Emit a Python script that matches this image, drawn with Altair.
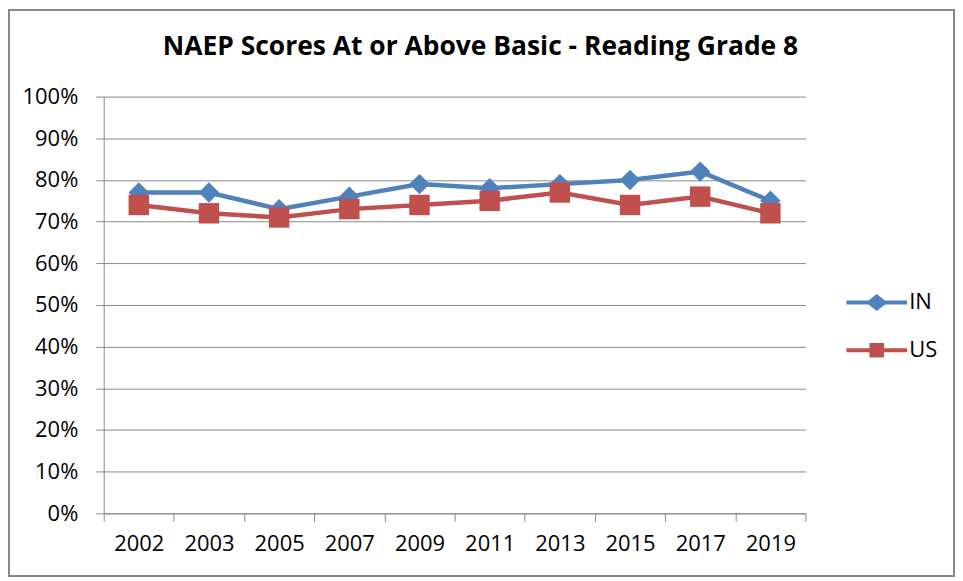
import altair as alt
import pandas as pd

title_text = "NAEP Scores At or Above Basic - Reading Grade 8"
years = ["2002", "2003", "2005", "2007", "2009", "2011", "2013", "2015", "2017", "2019"]
in_scores = [77, 77, 73, 76, 79, 78, 79, 80, 82, 75]
us_scores = [74, 72, 71, 73, 74, 75, 77, 74, 76, 72]
series = ["IN", "US"]
colors = ["#4F81BD", "#C0504D"]

rows = []
for y, v in zip(years, in_scores):
    rows.append({"year": y, "series": "IN", "value": v / 100})
for y, v in zip(years, us_scores):
    rows.append({"year": y, "series": "US", "value": v / 100})
df = pd.DataFrame(rows)

FONT = "Open Sans"

diamond_path = ("M-1,-0.065 L-0.27,-0.065 L0,-0.28 L0.27,-0.065 L1,-0.065 L1,0.065 "
                "L0.27,0.065 L0,0.28 L-0.27,0.065 L-1,0.065 Z")
square_path = ("M-1,-0.065 L-0.24,-0.065 L-0.24,-0.24 L0.24,-0.24 L0.24,-0.065 L1,-0.065 "
               "L1,0.065 L0.24,0.065 L0.24,0.24 L-0.24,0.24 L-0.24,0.065 L-1,0.065 Z")

x_enc = alt.X("year:N", sort=years, title=None,
              scale=alt.Scale(paddingInner=0, paddingOuter=0),
              axis=alt.Axis(labelAngle=0, tickBand="extent", tickSize=8,
                            labelPadding=12, labelFontSize=22, labelColor="#000",
                            domainColor="#888", tickColor="#888", grid=False,
                            labelFont=FONT))
y_enc = alt.Y("value:Q", title=None,
              scale=alt.Scale(domain=[0, 1], nice=False),
              axis=alt.Axis(format=".0%", values=[i / 10 for i in range(11)],
                            tickSize=8, labelPadding=18, labelFontSize=22,
                            labelColor="#000", domainColor="#888", tickColor="#888",
                            gridColor="#888", gridWidth=1, labelFont=FONT))

legend = alt.Legend(title=None, orient="none", legendX=745, legendY=176,
                    symbolSize=3700, rowPadding=6, labelFontSize=22,
                    labelFont=FONT, labelColor="#000", labelOffset=2,
                    symbolStrokeWidth=0, symbolOpacity=1)

color_nolegend = alt.Color("series:N", scale=alt.Scale(domain=series, range=colors), legend=None)

lines = alt.Chart(df).mark_line(strokeWidth=4.5).encode(x=x_enc, y=y_enc, color=color_nolegend)
points = alt.Chart(df).mark_point(filled=True, opacity=1, size=420).encode(
    x=x_enc, y=y_enc, color=color_nolegend,
    shape=alt.Shape("series:N", scale=alt.Scale(domain=series, range=["diamond", "square"]),
                    legend=None))

legend_layer = alt.Chart(df).mark_point(filled=True, size=0, opacity=0).encode(
    x=x_enc, y=y_enc,
    color=alt.Color("series:N", scale=alt.Scale(domain=series, range=colors), legend=legend),
    shape=alt.Shape("series:N", scale=alt.Scale(domain=series, range=[diamond_path, square_path]),
                    legend=legend))

one = pd.DataFrame({"title": [title_text]})
border = alt.Chart(one).mark_rect(
    fill=None, stroke="#888", strokeWidth=2).encode(
    x=alt.value(-95), x2=alt.value(853), y=alt.value(-87), y2=alt.value(481))
title = alt.Chart(one).mark_text(
    font=FONT, fontSize=26.5, fontWeight="bold", color="#000",
    align="center", baseline="alphabetic").encode(
    text="title:N", x=alt.value(378), y=alt.value(-42))

chart = alt.layer(border, title, lines, points, legend_layer).resolve_scale(
    shape="independent", color="independent"
).properties(
    width=704, height=418,
    padding={"left": 96, "top": 88, "right": 150, "bottom": 64},
    autosize=alt.AutoSizeParams(type="none"),
    background="white",
).configure_view(stroke=None)

chart.save("out.html", embed_options={"renderer": "svg", "actions": False})
